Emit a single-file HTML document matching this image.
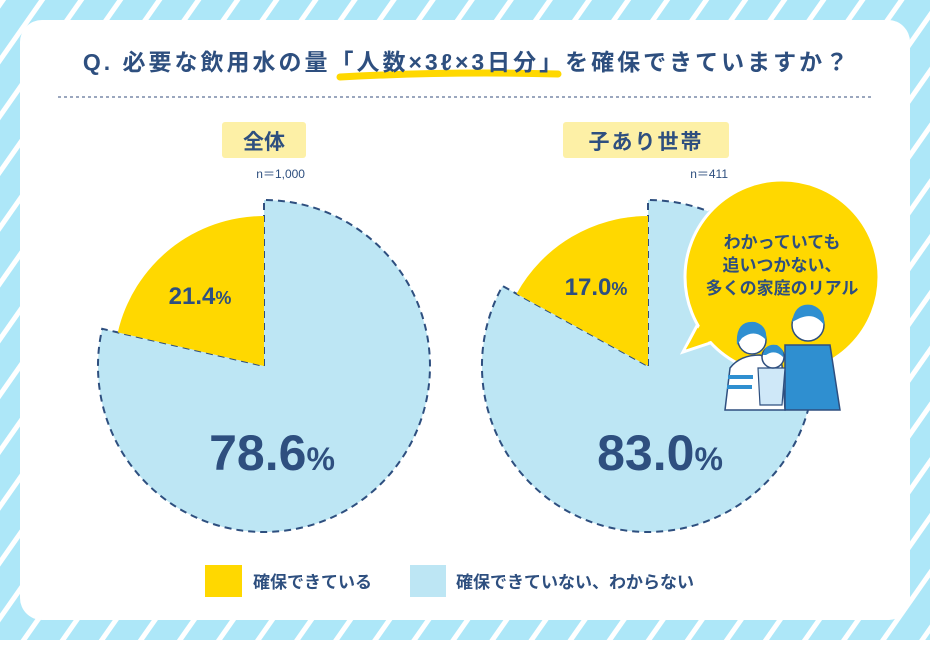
<!DOCTYPE html>
<html><head><meta charset="utf-8"><style>
body{margin:0;width:930px;height:640px;overflow:hidden;font-family:"Liberation Sans","Noto Sans CJK JP",sans-serif;}
</style></head><body>
<svg width="930" height="640" xmlns="http://www.w3.org/2000/svg" font-family="Liberation Sans, Noto Sans CJK JP, sans-serif">
<defs><pattern id="st" width="32" height="32" patternUnits="userSpaceOnUse" patternTransform="rotate(35)">
<rect width="32" height="32" fill="#ade7f8"/><rect width="5" height="32" fill="#fff"/></pattern></defs>
<rect width="930" height="640" fill="url(#st)"/>
<rect x="20" y="20" width="890" height="600" rx="22" fill="#fff"/>
<path d="M340 77 Q450 71 558 74" stroke="#ffd800" stroke-width="7" fill="none" stroke-linecap="round"/>
<text x="467" y="70" text-anchor="middle" font-size="23" font-weight="bold" fill="#2e4f7f" letter-spacing="3">Q. 必要な飲用水の量「人数×3ℓ×3日分」を確保できていますか？</text>
<line x1="58" y1="97" x2="872" y2="97" stroke="#7a8aa8" stroke-width="1.5" stroke-dasharray="3,3"/>
<rect x="222" y="122" width="84" height="36" rx="3" fill="#fdf0a6"/>
<text x="264" y="149" text-anchor="middle" font-size="21" font-weight="bold" fill="#2e4f7f">全体</text>
<rect x="563" y="122" width="166" height="36" rx="3" fill="#fdf0a6"/>
<text x="646" y="149" text-anchor="middle" font-size="21" font-weight="bold" fill="#2e4f7f" letter-spacing="2">子あり世帯</text>
<text x="305" y="178" text-anchor="end" font-size="12" fill="#2e4f7f">n＝1,000</text>
<text x="728" y="178" text-anchor="end" font-size="12" fill="#2e4f7f">n＝411</text>
<path d="M264 366 L264 200 A166 166 0 1 1 102.2 328.8 Z" fill="#bde6f4" stroke="#2e4f7f" stroke-width="2" stroke-dasharray="7,5"/>
<path d="M264 366 L117.8 332.4 A150 150 0 0 1 264 216 Z" fill="#ffd800"/>
<path d="M648 366 L648 200 A166 166 0 1 1 502.5 286 Z" fill="#bde6f4" stroke="#2e4f7f" stroke-width="2" stroke-dasharray="7,5"/>
<path d="M648 366 L516.6 293.7 A150 150 0 0 1 648 216 Z" fill="#ffd800"/>
<text x="200" y="304" text-anchor="middle" font-size="24" font-weight="bold" fill="#2e4f7f">21.4<tspan font-size="18">%</tspan></text>
<text x="272" y="470" text-anchor="middle" font-size="50" font-weight="bold" fill="#2e4f7f">78.6<tspan font-size="32">%</tspan></text>
<text x="596" y="295" text-anchor="middle" font-size="24" font-weight="bold" fill="#2e4f7f">17.0<tspan font-size="18">%</tspan></text>
<text x="660" y="470" text-anchor="middle" font-size="50" font-weight="bold" fill="#2e4f7f">83.0<tspan font-size="32">%</tspan></text>
<path d="M700 320 L683 352 L725 338 Z" fill="#ffd800" stroke="#fff" stroke-width="3"/>
<circle cx="782" cy="277" r="97" fill="#ffd800" stroke="#fff" stroke-width="3"/>
<path d="M702 322 L686 349 L726 336 Z" fill="#ffd800"/>
<g font-size="17" font-weight="bold" fill="#2e4f7f" text-anchor="middle">
<text x="782" y="248">わかっていても</text>
<text x="782" y="271">追いつかない、</text>
<text x="782" y="294">多くの家庭のリアル</text></g>
<path d="M785 345 L830 345 L840 410 L785 410 Z" fill="#2f8fd0" stroke="#2e4f7f" stroke-width="1.5"/>
<circle cx="808" cy="325" r="16" fill="#fff" stroke="#2e4f7f" stroke-width="1.5"/>
<path d="M792 322 Q795 302 812 305 Q826 310 824 325 Q815 312 800 318 Z" fill="#2f8fd0"/>
<path d="M730 368 Q740 355 760 355 L782 365 L785 410 L725 410 Z" fill="#fff" stroke="#2e4f7f" stroke-width="1.5"/>
<rect x="728" y="375" width="25" height="4" fill="#2f8fd0"/><rect x="727" y="385" width="25" height="4" fill="#2f8fd0"/>
<circle cx="752" cy="340" r="14" fill="#fff" stroke="#2e4f7f" stroke-width="1.5"/>
<path d="M737 345 Q735 320 755 322 Q768 326 766 340 Q755 328 742 338 Z" fill="#2f8fd0"/>
<path d="M758 368 L785 368 L782 405 L760 405 Z" fill="#cfe8f8" stroke="#2e4f7f" stroke-width="1.2"/>
<circle cx="773" cy="357" r="11" fill="#fff" stroke="#2e4f7f" stroke-width="1.5"/>
<path d="M763 355 Q765 343 777 345 Q785 350 783 357 Q775 349 766 355 Z" fill="#2f8fd0"/>
<rect x="205" y="565" width="37" height="32" fill="#ffd800"/>
<text x="253" y="588" font-size="17" font-weight="bold" fill="#2e4f7f">確保できている</text>
<rect x="410" y="565" width="36" height="32" fill="#bde6f4"/>
<text x="456" y="588" font-size="17" font-weight="bold" fill="#2e4f7f">確保できていない、わからない</text>
</svg>
</body></html>
